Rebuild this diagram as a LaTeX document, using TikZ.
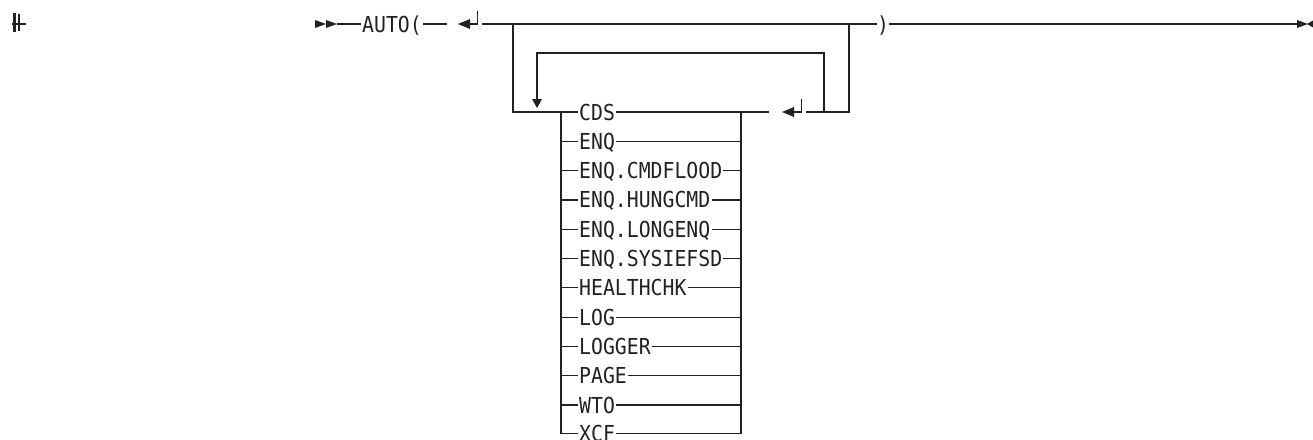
\documentclass[tikz,border=0pt]{standalone}
\usepackage{fontspec}
\newfontfamily\diafont[FakeStretch=0.9]{DejaVu Sans Mono}
\definecolor{ink}{rgb}{0.13,0.13,0.13}
\begin{document}
\begin{tikzpicture}[x=1pt,y=-1pt,
  rail/.style={draw=ink,line width=1.2pt},
  kw/.style={font=\diafont\fontsize{22}{22}\selectfont,text=ink,inner xsep=1pt,inner ysep=0pt,
             text height=16pt,text depth=0pt},
  tip/.style={fill=ink},
  pics/retmark/.style={code={
     \fill[ink] (0,0) -- (12,-5) -- (12,5) -- cycle;
     \draw[rail] (11,0) -- (19.5,0) -- (19.5,-13);}}]
\useasboundingbox (0,0) rectangle (1313,439);
% top-left mark
\draw[ink,line width=3pt] (14.2,12.7) -- (14.2,31.7);
\draw[ink,line width=2.2pt] (18.9,13.5) -- (18.9,31);
\draw[ink,line width=1.6pt] (11.7,23.9) -- (26,23.9);
% start arrows
\fill[tip] (315,20) -- (326,24) -- (315,28) -- cycle;
\fill[tip] (326,20) -- (337,24) -- (326,28) -- cycle;
\coordinate (start) at (337,24);
\node[kw,anchor=west] (auto) at (361,24) {AUTO(};
\draw[rail] (start) -- (auto.west);
\coordinate (g1) at (447,24);
\draw[rail] (auto.east) -- (g1);
\pic at (458,24) {retmark};
\coordinate (top1) at (482,24);
\node[kw,inner xsep=0pt] (rp) at (883,24) {)};
\draw[rail] (top1) -- (rp.west);
\coordinate (endp) at (1297,24);
\draw[rail] (rp.east) -- (endp);
\fill[tip] (1297,20) -- (1308,24) -- (1297,28) -- cycle;
\fill[tip] (1313,20.5) -- (1307,24) -- (1313,27.5) -- cycle;
% outer loop
\coordinate (olt) at (513,24);
\coordinate (olb) at (513,112);
\coordinate (ort) at (849,24);
\coordinate (orb) at (849,112);
\coordinate (cl) at (561,112);
\coordinate (cr) at (741,112);
\coordinate (cr2) at (769,112);
\coordinate (rr) at (806,112);
\draw[rail] (olt) -- (olb) -- (cl);
\draw[rail] (ort) -- (orb) -- (rr);
\draw[rail] (cr) -- (cr2);
\pic at (782,112) {retmark};
% inner repeat loop
\coordinate (ir) at (824,112);
\coordinate (irt) at (824,53);
\coordinate (ilt) at (537,53);
\coordinate (ilb) at (537,99);
\draw[rail] (ir) -- (irt) -- (ilt) -- (ilb);
\fill[tip] (532,99) -- (542,99) -- (537,108) -- cycle;
% choices
\coordinate (cbl) at (561,433.5);
\coordinate (cbr) at (741,433.5);
\draw[rail] (cl) -- (cbl);
\draw[rail] (cr) -- (cbr);
\foreach \t/\y [count=\i] in {CDS/112,ENQ/141.3,ENQ.CMDFLOOD/170.6,ENQ.HUNGCMD/199.9,ENQ.LONGENQ/229.2,ENQ.SYSIEFSD/258.5,HEALTHCHK/287.8,LOG/317.1,LOGGER/346.4,PAGE/375.7,WTO/405,XCF/433.5}{
  \node[kw,anchor=west] (it\i) at (578,\y) {\t};
  \coordinate (la\i) at (561,\y);
  \coordinate (ra\i) at (741,\y);
  \draw[rail] (la\i) -- (it\i.west);
  \draw[rail] (it\i.east) -- (ra\i);
}
\end{tikzpicture}
\end{document}
